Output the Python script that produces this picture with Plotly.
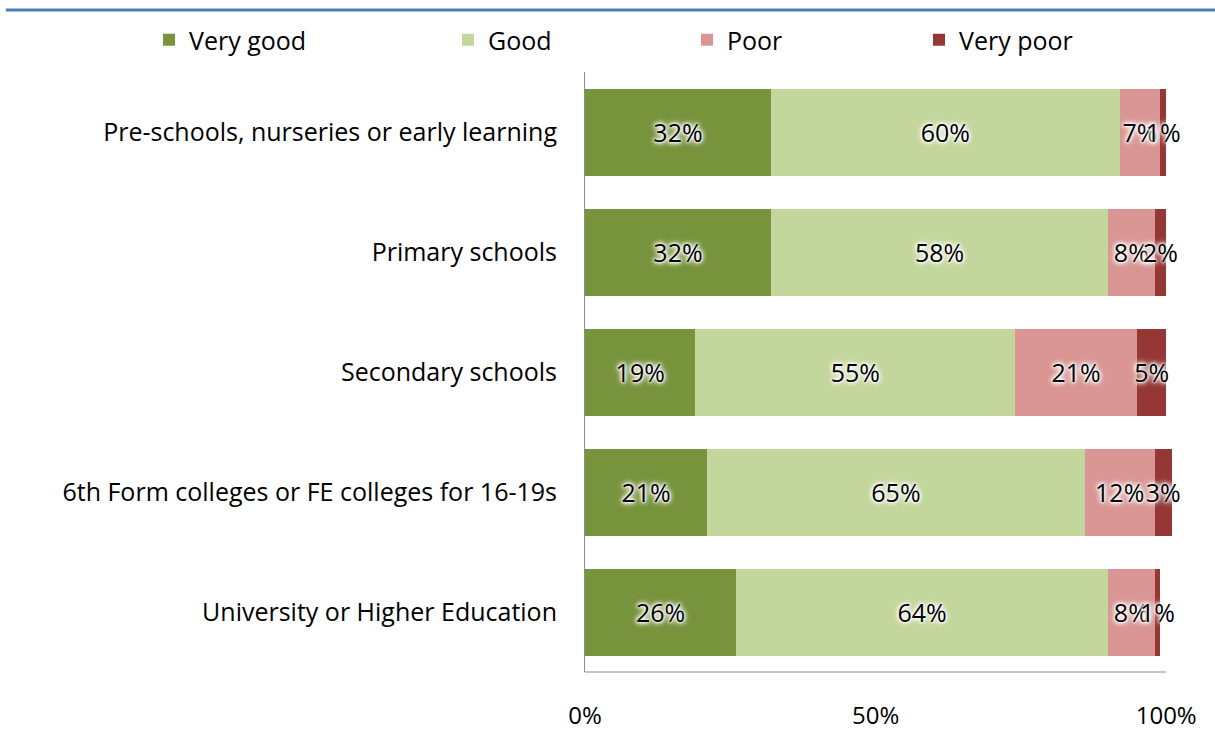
import plotly.graph_objects as go

# Survey ratings by education setting (percent of respondents)
categories = [
    "Pre-schools, nurseries or early learning",
    "Primary schools",
    "Secondary schools",
    "6th Form colleges or FE colleges for 16-19s",
    "University or Higher Education",
]
very_good = [32, 32, 19, 21, 26]
good = [60, 58, 55, 65, 64]
poor = [7, 8, 21, 12, 8]
very_poor = [1, 2, 5, 3, 1]

series = [
    ("Very good", very_good, "#77933C"),
    ("Good", good, "#C3D69B"),
    ("Poor", poor, "#D99694"),
    ("Very poor", very_poor, "#953735"),
]

x_ticks = [0, 50, 100]
x_tick_labels = ["0%", "50%", "100%"]

FONT = "'Open Sans', Calibri, Carlito, sans-serif"
GLOW = ("0px 0px 2px #ffffff, 0px 0px 3px #ffffff, "
        "0px 0px 4px #ffffff, 0px 0px 6px #ffffff, 0px 0px 6px #ffffff")

W, H = 1215, 731
X_MAX = 101  # leaves room for rows whose rounded shares add up past 100
PLOT_LEFT, PLOT_100 = 585, 1166
PX_PER_UNIT = (PLOT_100 - PLOT_LEFT) / 100
PLOT_RIGHT = PLOT_LEFT + PX_PER_UNIT * X_MAX
L, R, T, B = PLOT_LEFT, W - PLOT_RIGHT, 72, 59
PLOT_W, PLOT_H = PLOT_RIGHT - PLOT_LEFT, H - T - B

# each series gets its own one-item legend so entries can be spaced freely
legend_text_x = [189, 488, 727, 959]
legend_names = ["legend", "legend2", "legend3", "legend4"]

fig = go.Figure()
for (name, vals, color), lg in zip(series, legend_names):
    fig.add_trace(go.Bar(
        y=categories,
        x=vals,
        name=name,
        orientation="h",
        marker=dict(color=color, line=dict(width=0)),
        text=[f"{v}%" for v in vals],
        textposition="inside",
        insidetextanchor="middle",
        textangle=0,
        constraintext="none",
        cliponaxis=False,
        insidetextfont=dict(family=FONT, size=25, color="#000000", shadow=GLOW),
        hoverinfo="skip",
        legend=lg,
    ))

layout_legends = {}
for lg, tx in zip(legend_names, legend_text_x):
    layout_legends[lg] = dict(
        xref="container", yref="container",
        x=(tx - 40) / W, y=1 - 40 / H,
        xanchor="left", yanchor="middle",
        orientation="h",
        bgcolor="rgba(0,0,0,0)",
        borderwidth=0,
        font=dict(family=FONT, size=25, color="#000000"),
    )

fig.update_layout(
    width=W, height=H,
    margin=dict(l=L, r=R, t=T, b=B, autoexpand=False),
    barmode="stack",
    bargap=0.275,
    paper_bgcolor="#ffffff",
    plot_bgcolor="#ffffff",
    font=dict(family=FONT, size=25, color="#000000"),
    showlegend=True,
    xaxis=dict(
        range=[0, X_MAX],
        tickvals=x_ticks,
        ticktext=x_tick_labels,
        tickfont=dict(size=24),
        showgrid=False,
        zeroline=False,
        showline=False,
        ticks="",
        ticklabelstandoff=27,
        automargin=False,
        fixedrange=True,
    ),
    yaxis=dict(
        autorange="reversed",
        showgrid=False,
        zeroline=False,
        showline=True,
        linecolor="#8c8c8c",
        linewidth=1,
        ticks="",
        ticklabelstandoff=22,
        automargin=False,
        fixedrange=True,
    ),
    shapes=[
        # category axis baseline, 0% to 100%
        dict(
            type="line", xref="x", yref="paper",
            x0=0, x1=100, y0=0, y1=0,
            line=dict(color="#8c8c8c", width=1),
        ),
        # header rule across the top of the page
        dict(
            type="line", xref="paper", yref="paper",
            x0=(6 - L) / PLOT_W, x1=(W - L) / PLOT_W,
            y0=(H - B - 10) / PLOT_H, y1=(H - B - 10) / PLOT_H,
            line=dict(color="#4A7EBB", width=3),
        ),
    ],
    **layout_legends,
)

fig.write_html("out.html")
